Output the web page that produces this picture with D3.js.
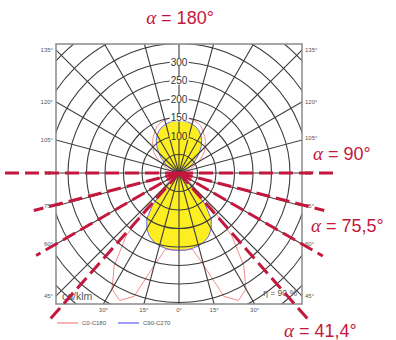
<!DOCTYPE html>
<html>
<head>
<meta charset="utf-8">
<script src="https://cdn.jsdelivr.net/npm/d3@7"></script>
<style>
  html, body { margin: 0; padding: 0; background: #fff; }
  svg { display: block; }
</style>
</head>
<body>
<svg id="chart" width="396" height="340"></svg>
<script>
// Luminous intensity distribution, cd/klm, gamma measured from nadir (0°) to zenith (180°)
const gammaDeg = [0, 5, 10, 15, 20, 25, 30, 35, 40, 45, 50, 55, 60, 65, 70, 75, 80, 85, 90,
                  95, 100, 105, 110, 115, 120, 125, 130, 135, 140, 145, 150, 155, 160, 165, 170, 175, 180];
// C90-C270 plane (filled body)
const c90c270 = [209, 209, 207, 204, 198, 189, 174, 152, 110, 30, 8, 3, 2, 1, 1, 0, 0, 0, 0,
                 0, 2, 6, 12, 22, 34, 48, 62, 78, 93, 107, 118, 127, 133, 137, 140, 141, 141];
// C0-C180 plane
const c0c180 = [209, 209, 209, 258, 355, 380, 362, 305, 222, 110, 35, 12, 6, 4, 3, 3, 3, 3, 4,
                6, 12, 20, 32, 45, 60, 75, 90, 100, 111, 121, 130, 140, 145, 148, 150, 151, 151];

const ringValues = [50, 100, 150, 200, 250, 300, 350, 400, 450];
const ringLabels = [100, 150, 200, 250, 300];
const gammaTicks = [0, 15, 30, 45, 60, 75, 90, 105, 120, 135, 150, 165, 180];

// Cut-off angles marked with dashed rays, and the annotations
const alphaAngles = [90, 75.5, 60, 41.4];
const alphaTexts = ["180°", "90°", "75,5°", "41,4°"];

const legendNames = ["C0-C180", "C90-C270"];
const unitText = "cd/klm";
const effText = "η = 90 %";

// ---- layout ----
const svg = d3.select("#chart");
const cx = 179, cy = 173;
const box = { x0: 56, y0: 44, x1: 302, y1: 304 };
const r = d3.scaleLinear().domain([0, 300]).range([0, 111]);
const rad = d => d * Math.PI / 180;

const RED = "#f28b8b", BLUE = "#6b6bf0", DASH = "#c4173d", GRID = "#3c3c3c";
const sans = "Liberation Sans, Arial, sans-serif";

svg.append("defs").append("clipPath").attr("id", "boxclip")
  .append("rect").attr("x", box.x0).attr("y", box.y0)
  .attr("width", box.x1 - box.x0).attr("height", box.y1 - box.y0);

const plot = svg.append("g");

// closed polar outline: right half from nadir to zenith, then left half back
function outline(values) {
  const pts = [];
  gammaDeg.forEach((g, i) => pts.push([Math.PI - rad(g), values[i]]));
  for (let i = gammaDeg.length - 1; i >= 0; i--) pts.push([Math.PI + rad(gammaDeg[i]), values[i]]);
  return pts;
}
const radial = d3.lineRadial().angle(d => d[0]).radius(d => r(d[1])).curve(d3.curveLinearClosed);

const center = plot.append("g").attr("transform", `translate(${cx},${cy})`);

// yellow body
center.append("path").datum(outline(c90c270))
  .attr("d", radial).attr("fill", "#fdee22").attr("stroke", "none");

// grid
const grid = plot.append("g").attr("clip-path", "url(#boxclip)");
grid.selectAll("circle.ring").data(ringValues).join("circle")
  .attr("cx", cx).attr("cy", cy).attr("r", d => r(d))
  .attr("fill", "none").attr("stroke", GRID).attr("stroke-width", 1.1);

const spokes = d3.range(0, 360, 15);
grid.selectAll("line.spoke").data(spokes).join("line")
  .attr("x1", cx).attr("y1", cy)
  .attr("x2", d => cx + 400 * Math.sin(rad(d)))
  .attr("y2", d => cy + 400 * Math.cos(rad(d)))
  .attr("stroke", GRID).attr("stroke-width", 1.1);

// frame
plot.append("rect").attr("x", box.x0).attr("y", box.y0)
  .attr("width", box.x1 - box.x0).attr("height", box.y1 - box.y0)
  .attr("fill", "none").attr("stroke", "#8a8a8a").attr("stroke-width", 1.5);

// curves
center.append("path").datum(outline(c0c180))
  .attr("d", radial).attr("fill", "none").attr("stroke", RED).attr("stroke-width", 1);
center.append("path").datum(outline(c90c270))
  .attr("d", radial).attr("fill", "none").attr("stroke", BLUE).attr("stroke-width", 1);

// radial value labels along the zenith axis
const rl = plot.append("g");
ringLabels.forEach(v => {
  const y = cy - r(v);
  const t = rl.append("text").attr("x", cx).attr("y", y + 3.6)
    .attr("text-anchor", "middle").attr("font-family", sans)
    .attr("font-size", 10).attr("fill", "#333").text(v);
  const bb = t.node().getBBox();
  rl.insert("rect", () => t.node()).attr("x", bb.x - 1).attr("y", y - 4)
    .attr("width", bb.width + 2).attr("height", 8)
    .attr("fill", v === 100 ? "#fdee22" : "#fff");
});

// gamma labels where each spoke meets the frame
gammaTicks.forEach(g => {
  [-1, 1].forEach(side => {
    if (g === 0 && side === 1) return;
    const dx = side * Math.sin(rad(g)), dy = Math.cos(rad(g));
    const tx = Math.abs(dx) > 1e-9 ? (side < 0 ? (cx - box.x0) : (box.x1 - cx)) / Math.abs(dx) : Infinity;
    const ty = dy > 1e-9 ? (box.y1 - cy) / dy : (dy < -1e-9 ? (cy - box.y0) / -dy : Infinity);
    if (ty < tx) {
      if (dy < 0) return; // top edge labels fall outside
      const x = cx + dx * ty;
      plot.append("text").attr("x", x).attr("y", box.y1 + 8).attr("text-anchor", "middle")
        .attr("font-family", sans).attr("font-size", 6).attr("fill", "#555").text(g + "°");
    } else {
      let y = cy + dy * tx;
      if (side > 0 && g === 105) y -= 2.5; // keep clear of the annotation beside it
      plot.append("text").attr("x", side < 0 ? box.x0 - 3 : box.x1 + 3).attr("y", y + 2)
        .attr("text-anchor", side < 0 ? "end" : "start")
        .attr("font-family", sans).attr("font-size", 6).attr("fill", "#555").text(g + "°");
    }
  });
});

// unit and efficiency notes
plot.append("text").attr("x", 62).attr("y", 300).attr("font-family", sans)
  .attr("font-size", 10.5).attr("fill", "#555").text(unitText);
plot.append("text").attr("x", 297).attr("y", 296).attr("text-anchor", "end").attr("font-family", sans)
  .attr("font-size", 8.5).attr("fill", "#555").text(effText);

// dashed cut-off rays (reach in px to the left / right of the centre)
const reachLeft = [178, 150, 165, 195];
const reachRight = [155, 150, 166, 195];
const rays = svg.append("g");
alphaAngles.forEach((a, i) => {
  [[-1, reachLeft[i]], [1, reachRight[i]]].forEach(([side, len]) => {
    rays.append("line").attr("x1", cx).attr("y1", cy)
      .attr("x2", cx + side * len * Math.sin(rad(a)))
      .attr("y2", cy + len * Math.cos(rad(a)))
      .attr("stroke", DASH).attr("stroke-width", 3)
      .attr("stroke-dasharray", "14 6");
  });
});

// alpha annotations
const annPos = [[180, 24, "middle"], [313, 160, "start"], [311, 232, "start"], [284, 337, "start"]];
alphaTexts.forEach((t, i) => {
  const [x, y, anchor] = annPos[i];
  const txt = svg.append("text").attr("x", x).attr("y", y).attr("text-anchor", anchor)
    .attr("fill", DASH).attr("font-family", sans).attr("font-size", 18);
  txt.append("tspan").attr("font-family", "Liberation Serif, serif").attr("font-style", "italic")
    .attr("font-size", 19).text("α");
  txt.append("tspan").text(" = " + t);
});

// legend
const lg = svg.append("g");
[[RED, 57, 82], [BLUE, 118, 143]].forEach(([col, lx, tx], i) => {
  lg.append("line").attr("x1", lx).attr("x2", lx + 21).attr("y1", 323).attr("y2", 323)
    .attr("stroke", col).attr("stroke-width", 1.3);
  lg.append("text").attr("x", tx).attr("y", 325).attr("font-family", sans)
    .attr("font-size", 6).attr("fill", "#555").text(legendNames[i]);
});
</script>
</body>
</html>
